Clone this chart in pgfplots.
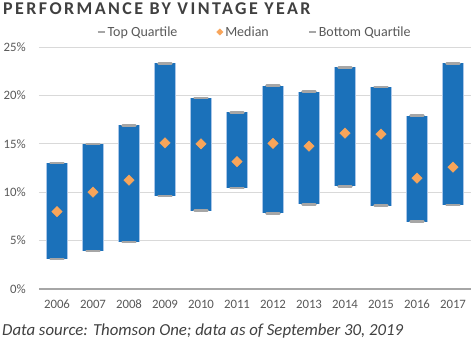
\documentclass[border=0pt]{standalone}
\usepackage{fontspec}
\setmainfont{Carlito}
\newfontfamily\titlefont[LetterSpace=13.5]{Carlito}
\usepackage{pgfplots}
\usepackage{pgfplotstable}
\pgfplotsset{compat=1.18}
\definecolor{barblue}{HTML}{1B71BA}
\definecolor{baredge}{HTML}{A9C6E8}
\definecolor{capgray}{HTML}{A6A6A6}
\definecolor{medorange}{HTML}{F8A55A}
\definecolor{txtgray}{HTML}{595959}
\definecolor{titlegray}{HTML}{404040}
\definecolor{gridgray}{HTML}{D9D9D9}
\pgfplotstableread{
x year bot med top
0 2006 3.1 8.0 13.0
1 2007 3.9 10.0 15.0
2 2008 4.85 11.25 16.9
3 2009 9.6 15.1 23.3
4 2010 8.1 15.0 19.75
5 2011 10.45 13.15 18.25
6 2012 7.8 15.05 21.0
7 2013 8.75 14.75 20.4
8 2014 10.6 16.1 22.9
9 2015 8.6 16.0 20.85
10 2016 6.95 11.45 17.9
11 2017 8.7 12.6 23.3
}\data
\begin{document}
\begin{tikzpicture}
\path[use as bounding box] (-39pt,-55pt) rectangle (436pt,289pt);
\begin{axis}[
 at={(0pt,0pt)}, anchor=south west, scale only axis, width=432pt, height=242pt,
 xmin=-0.5, xmax=11.5, ymin=0, ymax=25, clip=false,
 axis line style={draw=none}, tick style={draw=none},
 xtick={0,1,2,3,4,5,6,7,8,9,10,11},
 xticklabels={2006,2007,2008,2009,2010,2011,2012,2013,2014,2015,2016,2017},
 ytick={5,10,15,20,25}, yticklabels={5\%,10\%,15\%,20\%,25\%},
 extra y ticks={0}, extra y tick labels={0\%},
 extra y tick style={grid style={draw=capgray, line width=1.6pt}},
 ymajorgrids, grid style={draw=gridgray, line width=0.8pt},
 ticklabel style={font=\fontsize{12.8}{15}\selectfont, text=txtgray},
 xticklabel style={anchor=base, inner sep=0pt, yshift=-20pt},
 yticklabel style={anchor=east, inner sep=0pt, xshift=-13pt},
 legend columns=3,
 legend style={draw=none, fill=none, at={(axis description cs:0.133,1.062)}, anchor=west, inner sep=0pt,
   font=\fontsize{14}{16}\selectfont, text=txtgray,
   /tikz/every even column/.append style={column sep=37pt}},
 legend cell align=left,
]
\addplot[draw=none, mark=none, forget plot, error bars/.cd, y dir=both, y explicit, error mark=none,
  error bar style={draw=baredge, line width=21.4pt, solid}]
  table[x=x, y=med, y error plus expr=\thisrow{top}-\thisrow{med}, y error minus expr=\thisrow{med}-\thisrow{bot}] {\data};
\addplot[draw=none, mark=none, forget plot, error bars/.cd, y dir=both, y explicit, error mark=none,
  error bar style={draw=barblue, line width=20pt, solid}]
  table[x=x, y=med, y error plus expr=\thisrow{top}-\thisrow{med}, y error minus expr=\thisrow{med}-\thisrow{bot}] {\data};
\addplot[only marks, mark=-, mark size=6.5pt, mark options={draw=capgray, line width=2.5pt, line cap=round},
  legend image code/.code={\draw[capgray, line width=2pt] (0pt,0pt) -- (7pt,0pt);}]
  table[x=x, y=top] {\data};
\addlegendentry{Top Quartile}
\addplot[only marks, mark=square*, mark size=3.7pt, mark options={rotate=45, fill=medorange, draw=medorange},
  legend image code/.code={\fill[medorange] (0pt,0pt) -- (3.2pt,3.2pt) -- (6.4pt,0pt) -- (3.2pt,-3.2pt) -- cycle;}]
  table[x=x, y=med] {\data};
\addlegendentry{Median}
\addplot[only marks, mark=-, mark size=6.5pt, mark options={draw=capgray, line width=2.5pt, line cap=round},
  legend image code/.code={\draw[capgray, line width=2pt] (0pt,0pt) -- (7pt,0pt);}]
  table[x=x, y=bot] {\data};
\addlegendentry{Bottom Quartile}
\end{axis}
\node[anchor=base west, inner sep=0pt, text=titlegray, font=\titlefont\bfseries\fontsize{18}{20}\selectfont] at (-36pt,274pt) {PERFORMANCE BY VINTAGE YEAR};
\node[anchor=base west, inner sep=0pt, text=titlegray, font=\fontsize{16.8}{19}\selectfont\itshape] at (-37pt,-47pt) {Data source: Thomson One; data as of September 30, 2019};
\end{tikzpicture}
\end{document}
